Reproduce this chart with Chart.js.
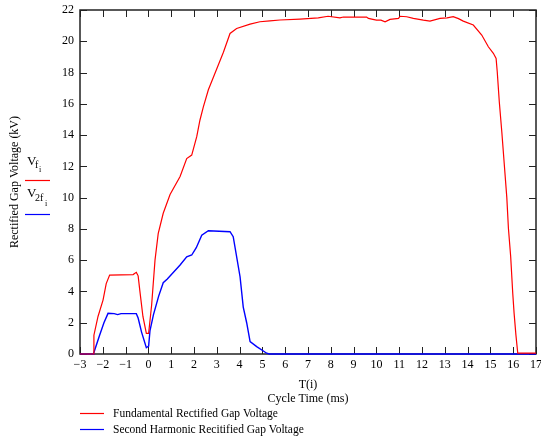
<!DOCTYPE html>
<html>
<head>
<meta charset="utf-8">
<title>Rectified Gap Voltage</title>
<script src="https://cdn.jsdelivr.net/npm/chart.js@4/dist/chart.umd.min.js"></script>
<style>
  html, body { margin: 0; padding: 0; background: #fff; }
  #wrap { width: 541px; height: 437px; }
</style>
</head>
<body>
<div id="wrap"><canvas id="myChart" width="541" height="437"></canvas></div>
<script>
'use strict';

// values (time in ms, voltage in kV)
let fundT = [-3, -2.42, -2.39, -2.21, -1.99, -1.85, -1.70, -0.67, -0.53, -0.45, -0.38, -0.24, -0.09, 0.01, 0.14, 0.29, 0.43, 0.65, 0.95, 1.39, 1.68, 1.90, 2.12, 2.26, 2.41, 2.63, 2.85, 3.07, 3.29, 3.58, 3.87, 4.46, 4.89, 5.33, 5.77, 6.65, 7.45, 7.88, 8.40, 8.55, 9.57, 9.65, 10.0, 10.2, 10.38, 10.6, 10.97, 11.04, 11.33, 11.62, 12.06, 12.35, 12.79, 13.1, 13.37, 13.6, 13.81, 14.25, 14.62, 14.91, 15.13, 15.25, 15.30, 15.39, 15.50, 15.60, 15.72, 15.79, 15.89, 15.98, 16.04, 16.12, 16.2, 17];
let fundV = [0, 0, 1.2, 2.4, 3.45, 4.5, 5.05, 5.08, 5.22, 5.0, 4.1, 2.4, 1.32, 1.32, 3.1, 6.0, 7.7, 9.0, 10.2, 11.35, 12.5, 12.72, 13.9, 14.95, 15.8, 16.9, 17.7, 18.5, 19.3, 20.5, 20.82, 21.1, 21.25, 21.31, 21.36, 21.42, 21.5, 21.6, 21.5, 21.55, 21.55, 21.46, 21.35, 21.35, 21.25, 21.4, 21.46, 21.6, 21.57, 21.46, 21.35, 21.29, 21.46, 21.5, 21.57, 21.45, 21.29, 21.04, 20.4, 19.65, 19.23, 18.9, 18.05, 16.13, 14.21, 12.3, 10.0, 8.04, 6.22, 3.88, 2.6, 1.21, 0.05, 0.05];

let harmT = [-3, -2.42, -2.39, -2.14, -1.95, -1.77, -1.5, -1.35, -1.2, -0.53, -0.45, -0.3, -0.09, 0.01, 0.07, 0.22, 0.45, 0.65, 0.83, 1.39, 1.68, 1.90, 2.1, 2.34, 2.63, 3.58, 3.72, 4.02, 4.16, 4.31, 4.46, 4.75, 5.19, 5.3, 17];
let harmV = [0, 0, 0.1, 1.2, 2.0, 2.6, 2.58, 2.52, 2.58, 2.58, 2.3, 1.4, 0.4, 0.5, 1.5, 2.5, 3.7, 4.56, 4.8, 5.69, 6.22, 6.33, 6.8, 7.6, 7.88, 7.82, 7.5, 4.94, 3.0, 2.0, 0.79, 0.47, 0.05, 0, 0];

let legendLabels = ['Fundamental Rectified Gap Voltage', 'Second Harmonic Recitified Gap Voltage'];
let xTitle = ['T(i)', 'Cycle Time (ms)'];
let yTitle = 'Rectified Gap Voltage (kV)';

const serif = "'Liberation Serif', 'DejaVu Serif', serif";
Chart.defaults.font.family = serif;
Chart.defaults.color = '#000';

function toPoints(ts, vs) {
  let pts = [];
  for (let i = 0; i < ts.length; i++) {
    pts.push({x: ts[i], y: vs[i]});
  }
  return pts;
}

// frame + inward ticks on all four sides, drawn under the traces
const frameTicks = {
  id: 'frameTicks',
  beforeDatasetsDraw(chart) {
    const {ctx, chartArea: a, scales: {x, y}} = chart;
    ctx.save();
    ctx.strokeStyle = '#222';
    ctx.lineWidth = 1;
    ctx.beginPath();
    x.ticks.forEach(t => {
      let px = Math.round(x.getPixelForValue(t.value)) + 0.5;
      ctx.moveTo(px, a.bottom); ctx.lineTo(px, a.bottom - 7);
      ctx.moveTo(px, a.top); ctx.lineTo(px, a.top + 7);
    });
    y.ticks.forEach(t => {
      let py = Math.round(y.getPixelForValue(t.value)) + 0.5;
      ctx.moveTo(a.left, py); ctx.lineTo(a.left + 7, py);
      ctx.moveTo(a.right, py); ctx.lineTo(a.right - 7, py);
    });
    ctx.stroke();
    ctx.lineWidth = 1.5;
    ctx.strokeRect(a.left, a.top, a.width, a.height);
    ctx.restore();
  },
  afterDraw(chart) {
    const ctx = chart.ctx;
    ctx.save();
    ctx.fillStyle = '#000';
    ctx.textBaseline = 'alphabetic';
    ctx.textAlign = 'left';

    // trace labels beside the y axis
    ctx.font = '13px ' + serif;
    ctx.fillText('V', 27, 165);
    ctx.font = '10px ' + serif;
    ctx.fillText('f', 35, 168);
    ctx.font = '8px ' + serif;
    ctx.fillText('i', 39, 172);
    ctx.font = '13px ' + serif;
    ctx.fillText('V', 27, 197);
    ctx.font = '10px ' + serif;
    ctx.fillText('2f', 35, 201);
    ctx.font = '8px ' + serif;
    ctx.fillText('i', 45, 206);

    ctx.lineWidth = 1.2;
    ctx.strokeStyle = '#ff0000';
    ctx.beginPath(); ctx.moveTo(25, 180.5); ctx.lineTo(50, 180.5); ctx.stroke();
    ctx.strokeStyle = '#0000ff';
    ctx.beginPath(); ctx.moveTo(25, 214.5); ctx.lineTo(50, 214.5); ctx.stroke();

    // legend under the chart
    const colors = ['#ff0000', '#0000ff'];
    const rows = [413, 429];
    ctx.font = '11.5px ' + serif;
    ctx.textBaseline = 'middle';
    for (let i = 0; i < legendLabels.length; i++) {
      ctx.strokeStyle = colors[i];
      ctx.beginPath(); ctx.moveTo(80, rows[i] + 0.5); ctx.lineTo(104, rows[i] + 0.5); ctx.stroke();
      ctx.fillText(legendLabels[i], 113, rows[i] + 1);
    }
    ctx.restore();
  }
};

const ctx = document.getElementById('myChart').getContext('2d');
const myChart = new Chart(ctx, {
  type: 'line',
  data: {
    datasets: [
      {
        label: legendLabels[0],
        data: toPoints(fundT, fundV),
        borderColor: '#ff0000',
        borderWidth: 1.2,
        pointRadius: 0,
        tension: 0,
        clip: 2
      },
      {
        label: legendLabels[1],
        data: toPoints(harmT, harmV),
        borderColor: '#0000ff',
        borderWidth: 1.4,
        pointRadius: 0,
        tension: 0,
        clip: 2
      }
    ]
  },
  options: {
    responsive: false,
    animation: false,
    layout: {padding: {top: 10, right: 5, bottom: 31, left: 0}},
    plugins: {legend: {display: false}, tooltip: {enabled: false}},
    scales: {
      x: {
        type: 'linear',
        min: -3,
        max: 17,
        grid: {display: false, drawTicks: false},
        border: {display: false},
        ticks: {
          stepSize: 1,
          autoSkip: false,
          maxRotation: 0,
          padding: 4,
          font: {size: 12},
          callback: v => (v < 0 ? '\u2212' + Math.abs(v) : '' + v)
        },
        title: {display: true, text: xTitle, font: {size: 12}, padding: {top: 0, bottom: 0}},
        afterFit: s => { s.height = 52; s.paddingLeft = 0; s.paddingRight = 0; }
      },
      y: {
        type: 'linear',
        min: 0,
        max: 22,
        grid: {display: false, drawTicks: false},
        border: {display: false},
        ticks: {stepSize: 2, padding: 6, font: {size: 12}},
        title: {display: true, text: yTitle, font: {size: 12}, padding: {top: 8, bottom: 0}},
        afterFit: s => { s.width = 80; s.paddingTop = 0; s.paddingBottom = 0; }
      }
    }
  },
  plugins: [frameTicks]
});
</script>
</body>
</html>
